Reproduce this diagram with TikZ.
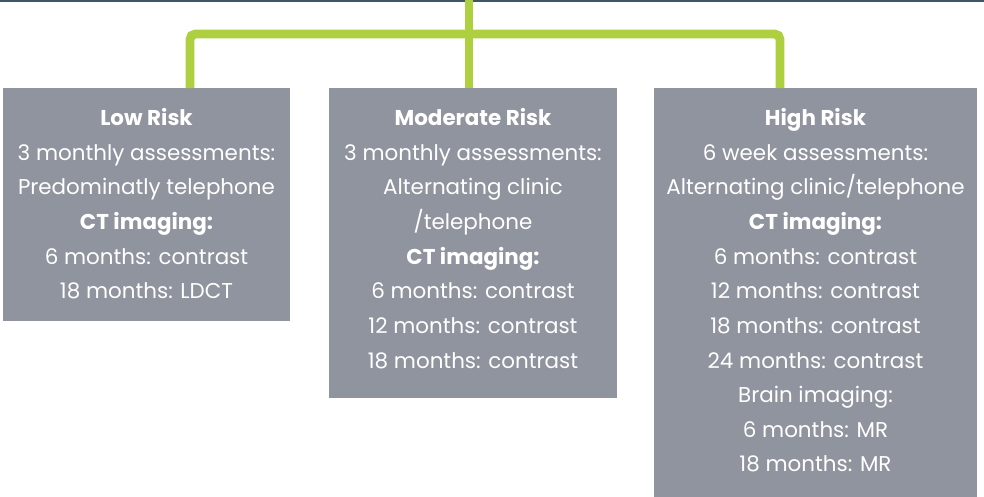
\documentclass[tikz,border=0pt]{standalone}
\usepackage{fontspec}
\setmainfont{Poppins}
\usetikzlibrary{positioning}
\definecolor{boxGrey}{RGB}{143,148,158}
\definecolor{linkGreen}{RGB}{174,207,63}
\definecolor{topSlate}{RGB}{62,86,100}
\newcommand{\boxfoot}[1]{\rule[-#1]{0pt}{#1}}

\begin{document}
\begin{tikzpicture}[x=0.02cm,y=-0.02cm,
    riskbox/.style={fill=boxGrey, text=white, align=center, anchor=north,
      inner xsep=0pt, inner ysep=11.5pt, font=\fontsize{12.2}{19.7}\selectfont},
    link/.style={draw=linkGreen, line width=5pt, rounded corners=3pt}]
  \useasboundingbox (0,0) rectangle (984,497);
  \clip (0,0) rectangle (984,497);
  % Top: rule and stem
  \draw[topSlate, line width=1.3pt] (0,1) -- (984,1);
  \coordinate (root) at (469,0);
  \coordinate (bar) at (469,34);
  % Risk boxes
  \node[riskbox, minimum width=5.74cm] (low) at (146.5,88)
    {\textbf{Low Risk}\\3 monthly assessments:\\Predominatly telephone\\
     \textbf{CT imaging:}\\6 months: contrast\\18 months: LDCT\boxfoot{1.3pt}};
  \node[riskbox, minimum width=5.76cm] (moderate) at (473,88)
    {\textbf{Moderate Risk}\\3 monthly assessments:\\Alternating clinic\\/telephone\\
     \textbf{CT imaging:}\\6 months: contrast\\12 months: contrast\\18 months: contrast\boxfoot{5.6pt}};
  \node[riskbox, minimum width=6.46cm] (high) at (815.5,88)
    {\textbf{High Risk}\\6 week assessments:\\Alternating clinic/telephone\\
     \textbf{CT imaging:}\\6 months: contrast\\12 months: contrast\\18 months: contrast\\
     24 months: contrast\\Brain imaging:\\6 months: MR\\18 months: MR\boxfoot{9pt}};
  % Green links
  \draw[link] ([xshift=0.87cm]low.north) |- (bar) -| ([xshift=-0.71cm]high.north);
  \draw[link] (root) -- (moderate.north -| root);
\end{tikzpicture}
\end{document}
